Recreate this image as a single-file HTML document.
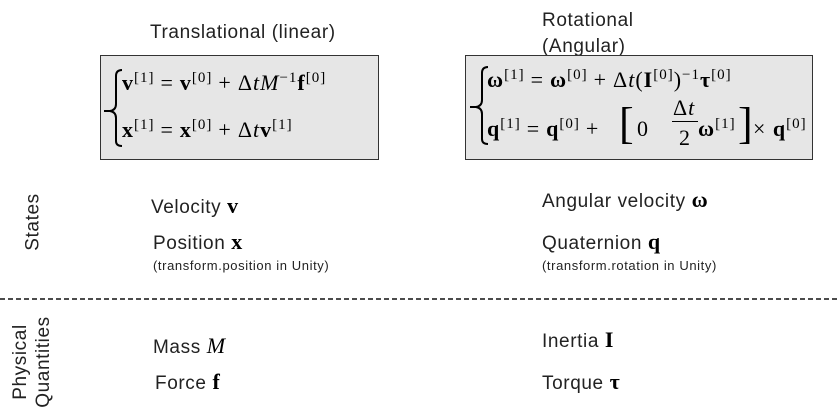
<!DOCTYPE html>
<html><head><style>
body{margin:0;width:839px;height:415px;background:#fff;position:relative;overflow:hidden;font-family:"Liberation Sans",sans-serif;color:#222}
.a{position:absolute;white-space:nowrap;line-height:1}
.l{font-size:19px;letter-spacing:0.6px}
.s{font-size:13px;letter-spacing:0.6px}
.m{font-family:"Liberation Serif",serif;font-size:22px;color:#000;letter-spacing:1px}
.box{position:absolute;background:#e6e6e6;border:1.5px solid #333}
b{font-weight:bold}
sup{font-size:15px;vertical-align:8px;line-height:0}
.o{margin:0 6px}
</style></head><body>
<div class="a l" style="left:150px;top:23px">Translational (linear)</div>
<div class="a l" style="left:542px;top:11px">Rotational</div>
<div class="a l" style="left:542px;top:37px">(Angular)</div>

<div class="box" style="left:100px;top:55px;width:277px;height:103px"></div>
<div class="box" style="left:465px;top:55px;width:346px;height:103px"></div>

<svg class="a" style="left:0;top:0" width="839" height="415">
<path d="M122 70 Q116 70 116 76 L116 104 Q116 110 110 111 L104 111 M110 111 Q116 112 116 118 L116 141 Q116 146 122 146" fill="none" stroke="#000" stroke-width="2"/>
<path d="M488 67 Q482 67 482 73 L482 100 Q482 106 476 107 L470 107 M476 107 Q482 108 482 114 L482 139 Q482 144 488 144" fill="none" stroke="#000" stroke-width="2"/>
<line x1="0" y1="299" x2="839" y2="299" stroke="#111" stroke-width="1.5" stroke-dasharray="5,3"/>
</svg>

<div class="a m" style="left:122px;top:72px"><b>v</b><sup>[1]</sup><span class="o">=</span><b>v</b><sup>[0]</sup><span class="o">+</span>Δ<i>tM</i><sup>−1</sup><b>f</b><sup>[0]</sup></div>
<div class="a m" style="left:122px;top:119px"><b>x</b><sup>[1]</sup><span class="o">=</span><b>x</b><sup>[0]</sup><span class="o">+</span>Δ<i>t</i><b>v</b><sup>[1]</sup></div>

<div class="a m" style="left:487px;top:69px"><b>ω</b><sup>[1]</sup><span class="o">=</span><b>ω</b><sup>[0]</sup><span class="o">+</span>Δ<i>t</i>(<b>I</b><sup>[0]</sup>)<sup>−1</sup><b>τ</b><sup>[0]</sup></div>
<div class="a m" style="left:487px;top:118px"><b>q</b><sup>[1]</sup><span class="o">=</span><b>q</b><sup>[0]</sup><span class="o">+</span></div>
<div class="a m" style="left:619px;top:102px;font-size:44px">[</div>
<div class="a m" style="left:637px;top:118px">0</div>
<div class="a m" style="left:673px;top:97px">Δ<i>t</i></div>
<div class="a" style="left:672px;top:121px;width:26px;border-top:1px solid #000"></div>
<div class="a m" style="left:679px;top:127px">2</div>
<div class="a m" style="left:698px;top:118px"><b>ω</b><sup>[1]</sup></div>
<div class="a m" style="left:738px;top:102px;font-size:44px">]</div>
<div class="a m" style="left:753px;top:118px">× <b>q</b><sup>[0]</sup></div>

<div class="a l" style="left:151px;top:195px">Velocity <b class="m">v</b></div>
<div class="a l" style="left:153px;top:231px">Position <b class="m">x</b></div>
<div class="a s" style="left:153px;top:259px">(transform.position in Unity)</div>
<div class="a l" style="left:542px;top:189px">Angular velocity <b class="m">ω</b></div>
<div class="a l" style="left:542px;top:231px">Quaternion <b class="m">q</b></div>
<div class="a s" style="left:542px;top:259px">(transform.rotation in Unity)</div>

<div class="a l" style="left:153px;top:335px">Mass <i class="m">M</i></div>
<div class="a l" style="left:155px;top:371px">Force <b class="m">f</b></div>
<div class="a l" style="left:542px;top:329px">Inertia <b class="m">I</b></div>
<div class="a l" style="left:542px;top:371px">Torque <b class="m">τ</b></div>

<div class="a l" style="left:33px;top:222px;transform:translate(-50%,-50%) rotate(-90deg)">States</div>
<div class="a l" style="left:32px;top:362px;transform:translate(-50%,-50%) rotate(-90deg);text-align:center;line-height:23px;white-space:nowrap">Physical<br>Quantities</div>
</body></html>
